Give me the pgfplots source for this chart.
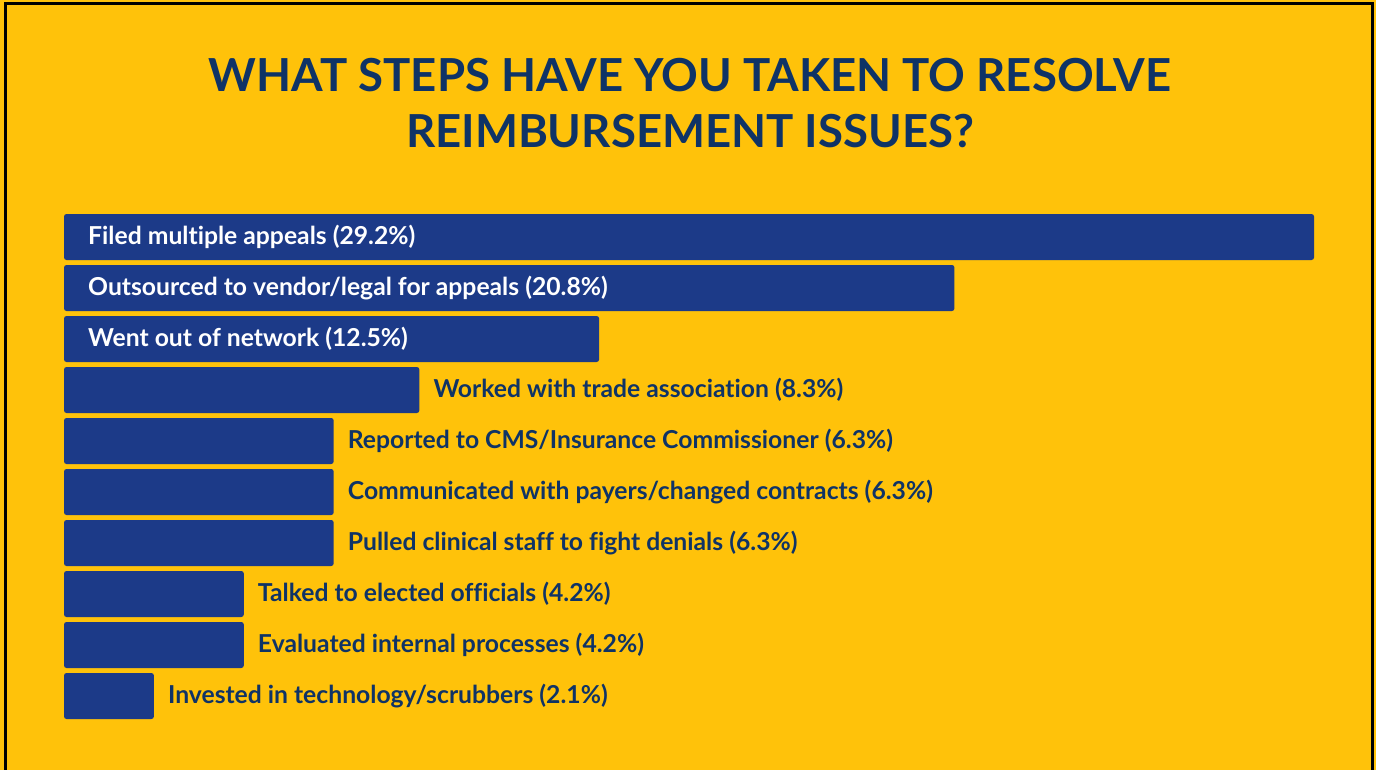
\documentclass[border=0pt]{standalone}
\usepackage{fontspec}
\setmainfont{Lato}[Ligatures=CommonOff]
\usepackage{pgfplots}
\pgfplotsset{compat=1.18}
\usepackage{pgfplotstable}
\definecolor{bg}{HTML}{FFC20A}
\definecolor{barblue}{HTML}{1C3A88}
\definecolor{navy}{HTML}{0F3366}

\pgfplotstableread[col sep=comma]{
pos,val,label
0,29.2,Filed multiple appeals (29.2\%)
1,20.8,Outsourced to vendor/legal for appeals (20.8\%)
2,12.5,Went out of network (12.5\%)
}\inside

\pgfplotstableread[col sep=comma]{
pos,val,label
3,8.3,Worked with trade association (8.3\%)
4,6.3,Reported to CMS/Insurance Commissioner (6.3\%)
5,6.3,Communicated with payers/changed contracts (6.3\%)
6,6.3,Pulled clinical staff to fight denials (6.3\%)
7,4.2,Talked to elected officials (4.2\%)
8,4.2,Evaluated internal processes (4.2\%)
9,2.1,Invested in technology/scrubbers (2.1\%)
}\outside

\begin{document}
\begin{tikzpicture}[x=1pt,y=1pt]
\fill[bg] (0,0) rectangle (1376,770);
\useasboundingbox (0,0) rectangle (1376,770);
\draw[black, line width=3pt] (5,0) -- (5,766) -- (1372,766) -- (1372,0);
\node[navy, font=\fontsize{45.5}{56}\selectfont\bfseries, inner sep=0pt, anchor=base] at (690, 770-92) {WHAT STEPS HAVE YOU TAKEN TO RESOLVE};
\node[navy, font=\fontsize{45.5}{56}\selectfont\bfseries, inner sep=0pt, anchor=base] at (690, 770-148) {REIMBURSEMENT ISSUES?};
\begin{axis}[
  at={(64pt,48.5pt)}, anchor=south west,
  scale only axis, width=1250pt, height=510pt,
  xmin=0, xmax=29.2, ymin=-0.5, ymax=9.5,
  y dir=reverse, hide axis, ticks=none, clip=false,
]
\addplot[xbar, bar width=46pt, bar shift=0pt, fill=barblue, draw=none, rounded corners=2.5pt]
  table[x=val, y=pos] {\inside};
\addplot[xbar, bar width=46pt, bar shift=0pt, fill=barblue, draw=none, rounded corners=2.5pt]
  table[x=val, y=pos] {\outside};
\addplot[draw=none, mark=none, nodes near coords, point meta=explicit symbolic,
  every node near coord/.style={anchor=west, xshift=24pt, inner sep=0pt, text=white,
    font=\fontsize{24.7}{29}\selectfont\bfseries}]
  table[x expr=0, y=pos, meta=label] {\inside};
\addplot[draw=none, mark=none, nodes near coords, point meta=explicit symbolic,
  every node near coord/.style={anchor=west, xshift=14pt, inner sep=0pt, text=navy,
    font=\fontsize{24.7}{29}\selectfont\bfseries}]
  table[x=val, y=pos, meta=label] {\outside};
\end{axis}
\end{tikzpicture}
\end{document}
